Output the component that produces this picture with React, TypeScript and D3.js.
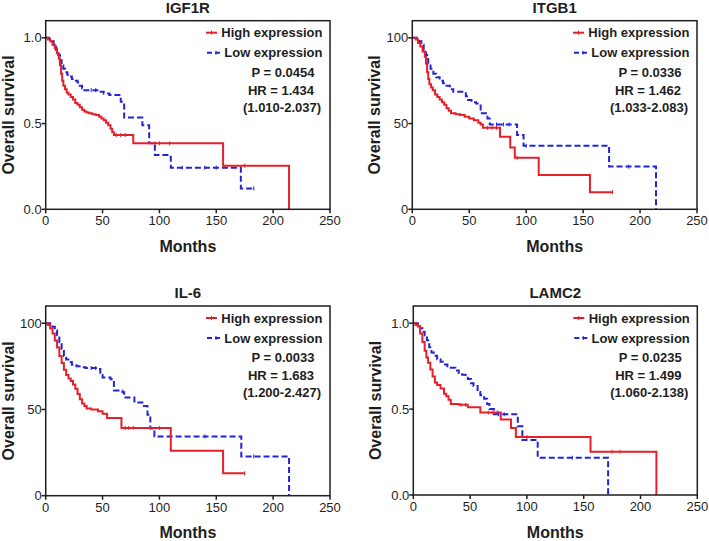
import React from 'react'
import * as d3 from 'd3'

type Pt = [number, number]

// survival steps: [months, survival]
const igf1rHigh: Pt[] = [[0, 1], [2, 0.99], [4, 0.98], [6, 0.96], [8, 0.94], [10, 0.91], [11.5, 0.88], [12.5, 0.84], [13.5, 0.79], [14.5, 0.75], [15.5, 0.72], [17, 0.7], [18.5, 0.68], [20, 0.67], [22, 0.655], [24, 0.64], [26, 0.62], [28, 0.61], [30, 0.595], [32, 0.58], [34, 0.57], [36, 0.565], [38, 0.56], [41, 0.555], [44, 0.55], [47, 0.54], [49, 0.53], [51, 0.52], [53, 0.505], [55, 0.49], [57, 0.47], [58.5, 0.45], [60, 0.433], [77, 0.385], [156, 0.254], [214, 0]]
const igf1rLow: Pt[] = [[0, 1], [3, 0.995], [5, 0.98], [7, 0.96], [9, 0.93], [11, 0.9], [12.5, 0.87], [14, 0.84], [15.5, 0.82], [17, 0.8], [19, 0.785], [21, 0.775], [23, 0.76], [25, 0.75], [28, 0.74], [30, 0.72], [32, 0.705], [34, 0.695], [47, 0.685], [51, 0.676], [56, 0.666], [66, 0.627], [69, 0.535], [85, 0.49], [91, 0.385], [96, 0.316], [110, 0.243], [171.6, 0.122], [183, 0.122]]
const igf1rHighCens = [62, 66, 70, 96, 100, 109, 175]
const igf1rLowCens = [40, 44, 120, 140, 150, 183]

const itgb1High: Pt[] = [[0, 1], [3, 0.99], [5, 0.97], [7, 0.95], [9, 0.92], [11, 0.89], [12, 0.85], [13, 0.8], [14, 0.76], [15, 0.73], [16.5, 0.71], [18, 0.695], [20, 0.67], [22, 0.655], [24, 0.64], [26, 0.625], [28, 0.61], [30, 0.59], [32, 0.575], [34, 0.56], [38, 0.555], [42, 0.55], [46, 0.54], [50, 0.53], [54, 0.52], [58, 0.505], [60, 0.495], [62, 0.475], [77, 0.423], [86, 0.36], [90, 0.3], [111, 0.2], [156, 0.1], [175.8, 0.1]]
const itgb1Low: Pt[] = [[0, 1], [4, 0.995], [6, 0.98], [8, 0.96], [10, 0.93], [12, 0.9], [14, 0.85], [16, 0.82], [18.5, 0.79], [21, 0.77], [24, 0.75], [27, 0.735], [30, 0.72], [33, 0.7], [36, 0.685], [47, 0.66], [49, 0.637], [52, 0.625], [56, 0.617], [60, 0.56], [66, 0.53], [68, 0.495], [92, 0.433], [97.7, 0.371], [172.8, 0.249], [214, 0]]
const itgb1HighCens = [66, 70, 74, 92, 175.8]
const itgb1LowCens = [74, 80, 85, 100, 190]

const il6High: Pt[] = [[0, 1], [2, 0.99], [4, 0.97], [6, 0.94], [8, 0.9], [10, 0.86], [12, 0.81], [14, 0.77], [16, 0.73], [18, 0.7], [20, 0.68], [22, 0.665], [24, 0.645], [26, 0.62], [28, 0.59], [30, 0.56], [32, 0.535], [34, 0.52], [36, 0.505], [40, 0.5], [46, 0.49], [50, 0.475], [54, 0.45], [66.6, 0.393], [110, 0.26], [156, 0.13], [175, 0.13]]
const il6Low: Pt[] = [[0, 1], [4, 0.995], [6, 0.98], [8, 0.96], [10, 0.93], [12, 0.89], [14, 0.85], [16, 0.81], [18, 0.79], [20, 0.775], [23, 0.76], [27, 0.75], [31, 0.745], [35, 0.74], [46, 0.735], [48, 0.7], [50, 0.685], [57, 0.675], [60, 0.61], [67.5, 0.6], [69, 0.57], [78, 0.54], [85, 0.52], [89.5, 0.47], [92, 0.39], [95.6, 0.344], [172, 0.228], [214, 0]]
const il6HighCens = [70, 73, 77, 100, 175]
const il6LowCens = [40, 44, 140, 183]

const lamc2High: Pt[] = [[0, 1], [2, 0.99], [4, 0.98], [6, 0.94], [8, 0.89], [10, 0.84], [11.5, 0.8], [13, 0.77], [15, 0.73], [17, 0.69], [19, 0.655], [21, 0.64], [24, 0.62], [27, 0.59], [29, 0.575], [31, 0.555], [33, 0.53], [40, 0.525], [48, 0.51], [59, 0.48], [77, 0.44], [86, 0.39], [90.3, 0.338], [156, 0.252], [214, 0]]
const lamc2Low: Pt[] = [[0, 1], [4, 0.99], [6, 0.97], [8, 0.95], [10, 0.93], [12, 0.9], [14, 0.86], [16, 0.83], [18, 0.81], [21, 0.79], [24, 0.775], [27, 0.76], [30, 0.75], [33, 0.74], [37, 0.725], [40, 0.71], [43, 0.7], [46, 0.69], [48, 0.675], [50.8, 0.65], [53, 0.635], [56.6, 0.6], [59, 0.58], [62.4, 0.56], [65, 0.53], [67, 0.5], [71, 0.47], [92, 0.4], [96, 0.32], [109.5, 0.217], [171.5, 0]]
const lamc2HighCens = [42, 46, 66, 70, 74, 100, 175, 182]
const lamc2LowCens = [75, 80, 140]

const genes = ['IGF1R', 'ITGB1', 'IL-6', 'LAMC2']
const pValues = ['P = 0.0454', 'P = 0.0336', 'P = 0.0033', 'P = 0.0235']
const hrValues = ['HR = 1.434', 'HR = 1.462', 'HR = 1.683', 'HR = 1.499']
const hrRanges = ['(1.010-2.037)', '(1.033-2.083)', '(1.200-2.427)', '(1.060-2.138)']
const percentAxis = [false, true, true, false]
const monthTicks = [0, 50, 100, 150, 200, 250]
const survTicks = [0, 0.5, 1]

const highCurves = [igf1rHigh, itgb1High, il6High, lamc2High]
const lowCurves = [igf1rLow, itgb1Low, il6Low, lamc2Low]
const highCens = [igf1rHighCens, itgb1HighCens, il6HighCens, lamc2HighCens]
const lowCens = [igf1rLowCens, itgb1LowCens, il6LowCens, lamc2LowCens]

// plot frames: left, right, top, bottom
const frames = [
  [45.7, 330, 20.7, 209.3],
  [412.3, 697, 20.7, 209.3],
  [45.7, 330, 306, 495.7],
  [413.3, 697.3, 306, 495],
]

const RED = '#e5202a'
const BLUE = '#2323d8'
const INK = '#1e1e1e'
const FONT = '"Liberation Sans", Arial, sans-serif'

const stepAt = (pts: Pt[], m: number) => {
  let v = pts[0][1]
  for (const p of pts) if (p[0] <= m) v = p[1]
  return v
}

function Panel({ i }: { i: number }) {
  const [left, right, top, bottom] = frames[i]
  const x = d3.scaleLinear().domain([0, 250]).range([left, right])
  const y = d3.scaleLinear().domain([0, 1.1]).range([bottom, top])
  const line = d3.line<Pt>().x((d) => x(d[0])).y((d) => y(d[1])).curve(d3.curveStepAfter)
  const fmt = percentAxis[i] ? (v: number) => d3.format('d')(v * 100) : d3.format('.1f')

  const cens = (months: number[], pts: Pt[], color: string) =>
    months.map((m) => {
      const cy = y(stepAt(pts, m))
      return <line key={color + m} x1={x(m)} x2={x(m)} y1={cy - 2} y2={cy + 2} stroke={color} strokeWidth={1} />
    })

  return (
    <g fontFamily={FONT}>
      <text x={(left + right) / 2} y={top - 8} textAnchor="middle" fontSize={15} fontWeight="bold" fill={INK}>{genes[i]}</text>

      <path d={line(lowCurves[i]) || ''} fill="none" stroke={BLUE} strokeWidth={2} strokeDasharray="6,3" />
      <path d={line(highCurves[i]) || ''} fill="none" stroke={RED} strokeWidth={2} />
      {cens(lowCens[i], lowCurves[i], BLUE)}
      {cens(highCens[i], highCurves[i], RED)}

      <rect x={left} y={top} width={right - left} height={bottom - top} fill="none" stroke={INK} strokeWidth={1.5} />
      {monthTicks.map((t) => (
        <g key={'x' + t}>
          <line x1={x(t)} x2={x(t)} y1={bottom} y2={bottom + 4} stroke={INK} strokeWidth={1.5} />
          <text x={x(t)} y={bottom + 16} textAnchor="middle" fontSize={13} fill={INK}>{t}</text>
        </g>
      ))}
      {survTicks.map((t) => (
        <g key={'y' + t}>
          <line x1={left - 4} x2={left} y1={y(t)} y2={y(t)} stroke={INK} strokeWidth={1.5} />
          <text x={left - 4} y={y(t)} dy="0.35em" textAnchor="end" fontSize={13} fill={INK}>{fmt(t)}</text>
        </g>
      ))}

      <text x={(left + right) / 2} y={bottom + 42.5} textAnchor="middle" fontSize={16} fontWeight="bold" fill={INK}>Months</text>
      <text transform={`translate(${left - 32},${(top + bottom) / 2}) rotate(-90)`} textAnchor="middle" fontSize={16} fontWeight="bold" fill={INK}>Overall survival</text>

      <g fontSize={13} fontWeight="bold" fill={INK}>
        <line x1={right - 124} x2={right - 113} y1={top + 12} y2={top + 12} stroke={RED} strokeWidth={2} />
        <line x1={right - 118.5} x2={right - 118.5} y1={top + 10} y2={top + 14} stroke={RED} strokeWidth={1} />
        <text x={right - 7.5} y={top + 16.5} textAnchor="end">High expression</text>
        <line x1={right - 123} x2={right - 110} y1={top + 32} y2={top + 32} stroke={BLUE} strokeWidth={2} strokeDasharray="5,3" />
        <line x1={right - 114} x2={right - 114} y1={top + 30} y2={top + 34} stroke={BLUE} strokeWidth={1} />
        <text x={right - 7.5} y={top + 36.5} textAnchor="end">Low expression</text>
        <text x={right - 47} y={top + 56} textAnchor="middle">{pValues[i]}</text>
        <text x={right - 49} y={top + 74} textAnchor="middle">{hrValues[i]}</text>
        <text x={right - 48} y={top + 91} textAnchor="middle">{hrRanges[i]}</text>
      </g>
    </g>
  )
}

export default function App() {
  return (
    <svg width={709} height={541} style={{ position: 'absolute', left: 0, top: 0, background: '#fff' }}>
      {genes.map((g, i) => <Panel key={g} i={i} />)}
    </svg>
  )
}
